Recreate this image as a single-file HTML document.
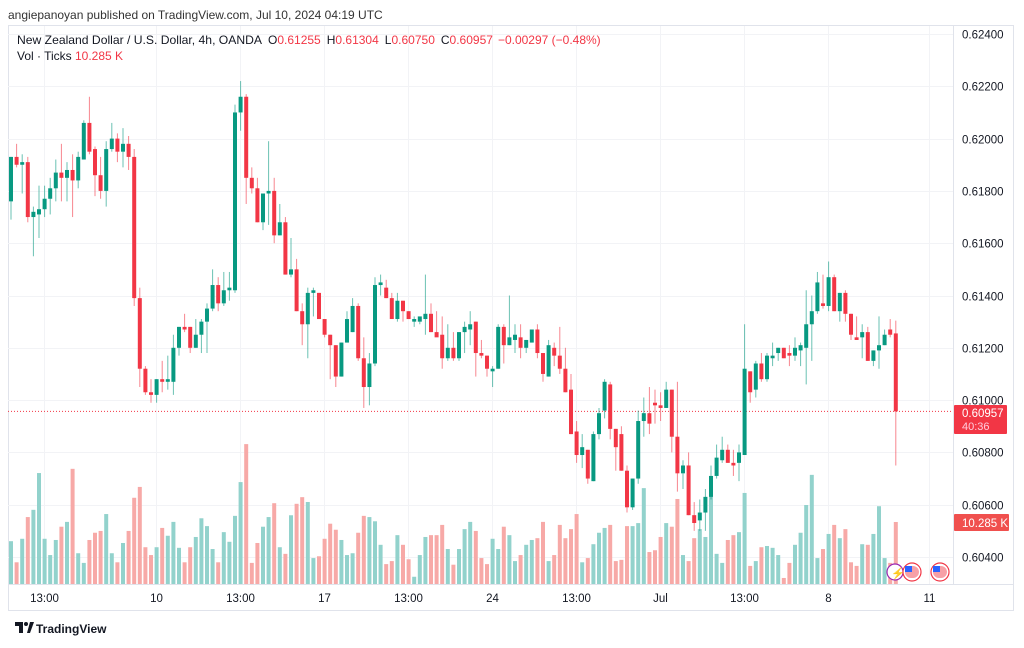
<!DOCTYPE html>
<html><head><meta charset="utf-8"><style>
body{margin:0;background:#fff;width:1024px;height:643px;overflow:hidden;font-family:"Liberation Sans",sans-serif}
svg text{font-family:"Liberation Sans",sans-serif}
</style></head><body>
<svg id="chart" width="1024" height="643" viewBox="0 0 1024 643" xmlns="http://www.w3.org/2000/svg">
<rect x="0" y="0" width="1024" height="643" fill="#ffffff"/>
<text x="8" y="19" font-size="12" fill="#333">angiepanoyan published on TradingView.com, Jul 10, 2024 04:19 UTC</text>
<rect x="8.5" y="25.5" width="1005" height="585" fill="none" stroke="#e0e3eb"/>
<g id="grid"></g>
<g id="vol"></g>
<g id="candles"></g>
<line x1="953.5" y1="25" x2="953.5" y2="585" stroke="#e0e3eb"/>
<line x1="8" y1="584.5" x2="1014" y2="584.5" stroke="#e0e3eb"/>
<g id="yaxis"></g>
<g id="xaxis"></g>
<g font-size="12">
<text x="17" y="44" fill="#131722" textLength="245" lengthAdjust="spacingAndGlyphs">New Zealand Dollar / U.S. Dollar, 4h, OANDA</text>
<text y="44" fill="#131722"><tspan x="268">O</tspan><tspan fill="#f23645">0.61255</tspan><tspan dx="6">H</tspan><tspan fill="#f23645">0.61304</tspan><tspan dx="6">L</tspan><tspan fill="#f23645">0.60750</tspan><tspan dx="6">C</tspan><tspan fill="#f23645">0.60957</tspan><tspan dx="5" fill="#f23645">−0.00297 (−0.48%)</tspan></text>
<text x="17" y="60" fill="#131722">Vol · Ticks</text>
<text x="75" y="60" fill="#f23645">10.285 K</text>
</g>
<g>
<circle cx="895" cy="572" r="8" fill="#fff" stroke="#9c27b0" stroke-width="1.2"/><text x="891" y="577" font-size="11" fill="#9c27b0">⚡</text>
<circle cx="912" cy="572" r="9" fill="#fff" stroke="#f23645" stroke-width="1.2"/><rect x="905" y="566" width="14" height="12" rx="6" fill="#f7a0a6"/><rect x="905" y="566" width="7" height="6" fill="#2962ff"/>
<circle cx="940" cy="572" r="9" fill="#fff" stroke="#f23645" stroke-width="1.2"/><rect x="933" y="566" width="14" height="12" rx="6" fill="#f7a0a6"/><rect x="933" y="566" width="7" height="6" fill="#2962ff"/>
</g>
<g>
<rect x="954" y="405" width="53" height="29" rx="1" fill="#f23645"/>
<text x="962" y="417" font-size="11.5" fill="#fff">0.60957</text>
<text x="962" y="430" font-size="11" fill="#fcd">40:36</text>
</g>
<g>
<rect x="954" y="514" width="55" height="17" rx="1" fill="#f0504e"/>
<text x="962" y="527" font-size="11.5" fill="#fff">10.285 K</text>
</g>
<g>
<path d="M15 622h8v11h-4v-7h-4z" fill="#131722"/><circle cx="26" cy="624" r="2" fill="#131722"/><path d="M27 633l3-11h4l-4 11z" fill="#131722"/>
<text x="36" y="633" font-size="12" font-weight="bold" fill="#131722">TradingView</text>
</g>
</svg>
<script>
const priceTicks=[0.624,0.622,0.620,0.618,0.616,0.614,0.612,0.610,0.608,0.606,0.604];
const timeTickIdx=[5.9,25.9,40.9,55.9,70.9,85.9,100.9,115.9,130.9,145.9,163.9];
const timeTickLabels=["13:00","10","13:00","17","13:00","24","13:00","Jul","13:00","8","11"];
const openP=[.6176,.6193,.6190,.6191,.6170,.6171,.6173,.6177,.6181,.6187,.6185,.6188,.6184,.6192,.6206,.6196,.6186,.6180,.6196,.6200,.6195,.6198,.6193,.6139,.6112,.6103,.6102,.6108,.6107,.6107,.6120,.6128,.6128,.6120,.6125,.6130,.6135,.6144,.6137,.6142,.6142,.6210,.6216,.6185,.6181,.6168,.6179,.6180,.6163,.6168,.6148,.6150,.6134,.6129,.6141,.6141,.6131,.6125,.6121,.6109,.6122,.6126,.6136,.6116,.6105,.6114,.6144,.6143,.6139,.6131,.6138,.6134,.6130,.6130,.6131,.6133,.6126,.6125,.6116,.6120,.6116,.6126,.6127,.6130,.6118,.6117,.6111,.6112,.6128,.6121,.6123,.6124,.6120,.6122,.6127,.6118,.6109,.6120,.6117,.6112,.6104,.6088,.6079,.6081,.6069,.6087,.6096,.6106,.6089,.6087,.6073,.6059,.6070,.6092,.6095,.6099,.6098,.6097,.6104,.6086,.6072,.6075,.6056,.6054,.6057,.6063,.6071,.6077,.6081,.6076,.6076,.6079,.6111,.6104,.6114,.6108,.6116,.6118,.6120,.6118,.6117,.6119,.6120,.6129,.6134,.6137,.6136,.6147,.6134,.6141,.6133,.6124,.6124,.6126,.6115,.6119,.6121,.6127,.61255];
const highP=[.6193,.6198,.6194,.6193,.6174,.6182,.6182,.6185,.6192,.6198,.6191,.6194,.6195,.6207,.6216,.6197,.6193,.6199,.6206,.6202,.6204,.6201,.6196,.6143,.6113,.6108,.6108,.6115,.6117,.6125,.6128,.6133,.6128,.6131,.6131,.6137,.6150,.6147,.6149,.6149,.6213,.6222,.6217,.6189,.6185,.6179,.6199,.6185,.6175,.6170,.6162,.6154,.6137,.6143,.6143,.6141,.6131,.6125,.6121,.6122,.6134,.6139,.6137,.6124,.6118,.6147,.6148,.6146,.6141,.6141,.6138,.6134,.6132,.6131,.6148,.6137,.6134,.6132,.6129,.6126,.6126,.6130,.6134,.6130,.6123,.6117,.6113,.6129,.6129,.6140,.6129,.6129,.6123,.6127,.6129,.6118,.6123,.6122,.6128,.6120,.6110,.6092,.6087,.6081,.6088,.6097,.6108,.6107,.6089,.6090,.6075,.6070,.6096,.6101,.6105,.6104,.6103,.6107,.6104,.6107,.6077,.6080,.6061,.6062,.6066,.6075,.6083,.6086,.6083,.6081,.6083,.6129,.6111,.6115,.6118,.6118,.6122,.6120,.6120,.6121,.6124,.6122,.6142,.6140,.6149,.6148,.6153,.6148,.6141,.6142,.6133,.6132,.6129,.6128,.6119,.6132,.6127,.6131,.61304];
const lowP=[.6169,.6189,.6179,.6168,.6155,.6162,.6170,.6171,.6176,.6176,.6176,.6170,.6181,.6192,.6194,.6178,.6177,.6174,.6195,.6191,.6189,.6188,.6136,.6105,.6102,.6099,.6099,.6103,.6104,.6102,.6117,.6126,.6118,.6120,.6118,.6118,.6134,.6134,.6136,.6138,.6141,.6203,.6175,.6179,.6168,.6165,.6167,.6160,.6163,.6148,.6147,.6134,.6121,.6116,.6132,.6131,.6124,.6108,.6105,.6109,.6122,.6126,.6115,.6097,.6098,.6113,.6140,.6139,.6131,.6130,.6130,.6131,.6128,.6129,.6125,.6126,.6125,.6112,.6115,.6115,.6115,.6118,.6121,.6109,.6116,.6109,.6105,.6112,.6114,.6121,.6118,.6116,.6118,.6122,.6116,.6107,.6109,.6113,.6110,.6103,.6087,.6076,.6074,.6068,.6069,.6085,.6093,.6085,.6073,.6073,.6057,.6058,.6068,.6086,.6087,.6091,.6092,.6097,.6080,.6065,.6066,.6056,.6050,.6050,.6050,.6062,.6070,.6076,.6076,.6071,.6069,.6079,.6099,.6101,.6107,.6107,.6113,.6115,.6116,.6113,.6115,.6113,.6106,.6115,.6133,.6135,.6134,.6134,.6130,.6130,.6123,.6123,.6116,.6115,.6113,.6112,.6121,.6124,.60750];
const closeP=[.6193,.6190,.6191,.6170,.6172,.6173,.6177,.6181,.6187,.6185,.6188,.6184,.6193,.6206,.6195,.6186,.6180,.6196,.6200,.6195,.6198,.6193,.6139,.6112,.6103,.6102,.6108,.6107,.6108,.6120,.6128,.6127,.6120,.6125,.6130,.6135,.6144,.6137,.6142,.6143,.6210,.6216,.6185,.6181,.6168,.6179,.6180,.6163,.6168,.6148,.6150,.6134,.6129,.6141,.6142,.6131,.6125,.6121,.6109,.6122,.6131,.6136,.6116,.6105,.6114,.6144,.6145,.6139,.6131,.6138,.6134,.6131,.6131,.6132,.6133,.6126,.6124,.6116,.6120,.6116,.6126,.6128,.6129,.6118,.6117,.6112,.6112,.6128,.6121,.6124,.6125,.6120,.6123,.6127,.6118,.6110,.6121,.6117,.6112,.6103,.6087,.6079,.6082,.6070,.6087,.6095,.6107,.6089,.6082,.6073,.6059,.6070,.6092,.6095,.6091,.6098,.6097,.6104,.6086,.6072,.6075,.6056,.6053,.6057,.6063,.6071,.6078,.6081,.6076,.6075,.6080,.6112,.6103,.6114,.6108,.6117,.6117,.6120,.6116,.6117,.6120,.6121,.6129,.6134,.6145,.6136,.6147,.6134,.6141,.6133,.6125,.6123,.6126,.6115,.6119,.6121,.6125,.6125,.60957];
const volumeK=[7.1,3.6,7.5,11.1,12.3,18.4,7.5,4.8,7.3,9.5,10.3,19.1,5.1,3.5,7.3,8.5,8.8,11.6,5.1,3.6,6.8,8.8,14.3,16.1,6.1,4.8,6.1,9.3,8.0,10.3,6.0,3.6,6.1,7.8,10.9,9.6,5.8,3.6,8.6,7.0,11.3,16.9,23.2,3.5,6.8,9.5,11.1,13.4,6.1,5.0,11.4,13.3,14.4,13.6,4.3,4.6,7.5,10.0,9.0,7.3,4.8,5.1,8.5,11.3,11.1,10.4,6.5,3.3,3.8,8.1,6.5,4.1,1.2,4.8,7.8,8.1,8.1,9.8,5.8,3.2,5.8,9.1,10.3,8.8,4.3,3.3,7.5,5.8,9.5,8.1,3.8,4.8,6.5,7.3,7.6,10.3,3.8,4.8,9.8,7.6,9.1,11.6,3.6,4.3,6.6,8.5,9.3,9.8,3.8,4.0,9.6,9.6,10.1,15.9,5.3,5.6,7.8,10.1,9.5,14.1,4.8,3.8,7.6,9.1,7.8,15.1,5.0,3.5,7.3,8.1,8.6,15.1,3.0,3.8,6.1,6.3,6.0,4.8,1.0,3.5,6.5,8.5,13.1,18.1,4.3,5.8,8.3,9.8,7.6,9.1,3.6,3.0,6.6,6.5,8.3,12.9,4.3,3.5,10.285];

const NS="http://www.w3.org/2000/svg";
const yP=p=>34+(0.624-p)/0.002*52.3;
const xI=i=>11+5.6*i;
const yV=v=>584-v*6.03;
function mk(tag,attrs,parent){const e=document.createElementNS(NS,tag);for(const k in attrs)e.setAttribute(k,attrs[k]);parent.appendChild(e);return e;}
const grid=document.getElementById('grid'),ya=document.getElementById('yaxis'),xa=document.getElementById('xaxis');
priceTicks.forEach(p=>{
  const y=Math.round(yP(p))+0.5;
  const l=mk('line',{x1:8,x2:953,y1:y,y2:y,stroke:'#f2f3f6'},grid);
  
  
  const t=mk('text',{x:962,y:y+4,'font-size':11.5,fill:'#131722'},ya);
  t.textContent=p.toFixed(5);
  
  
});
timeTickIdx.forEach((ti,k)=>{
  const x=Math.round(xI(ti))+0.5;
  const l=mk('line',{x1:x,x2:x,y1:26,y2:584,stroke:'#f2f3f6'},grid);
  
  
  const t=mk('text',{x:x,y:602,'font-size':11.5,fill:'#131722','text-anchor':'middle'},xa);
  t.textContent=timeTickLabels[k];
  
  
});
const vg=document.getElementById('vol'),cg=document.getElementById('candles');
volumeK.forEach((v,i)=>{
  const up=closeP[i]>=openP[i];
  const x=xI(i);
  const r=mk('rect',{x:x-2,y:yV(v),width:4,height:584-yV(v),fill:up?'#92d2cc':'#f7a9a7'},vg);
  
  
});
const cy=yP(closeP[closeP.length-1]);
const pl=mk('line',{x1:8,x2:953,y1:cy,y2:cy,stroke:'#f23645','stroke-width':1,'stroke-dasharray':'1,2'},cg);


openP.forEach((o,i)=>{
  const c=closeP[i],up=c>=o,col=up?'#089981':'#f23645';
  const x=xI(i);
  const w=mk('line',{x1:x,x2:x,y1:yP(highP[i]),y2:yP(lowP[i]),stroke:col,'stroke-width':1,opacity:0.6},cg);
  
  
  const top=yP(Math.max(o,c)),bot=yP(Math.min(o,c));
  const b=mk('rect',{x:x-2,y:top,width:4,height:Math.max(1,bot-top),fill:col},cg);
  
  
});
</script>
</body></html>
